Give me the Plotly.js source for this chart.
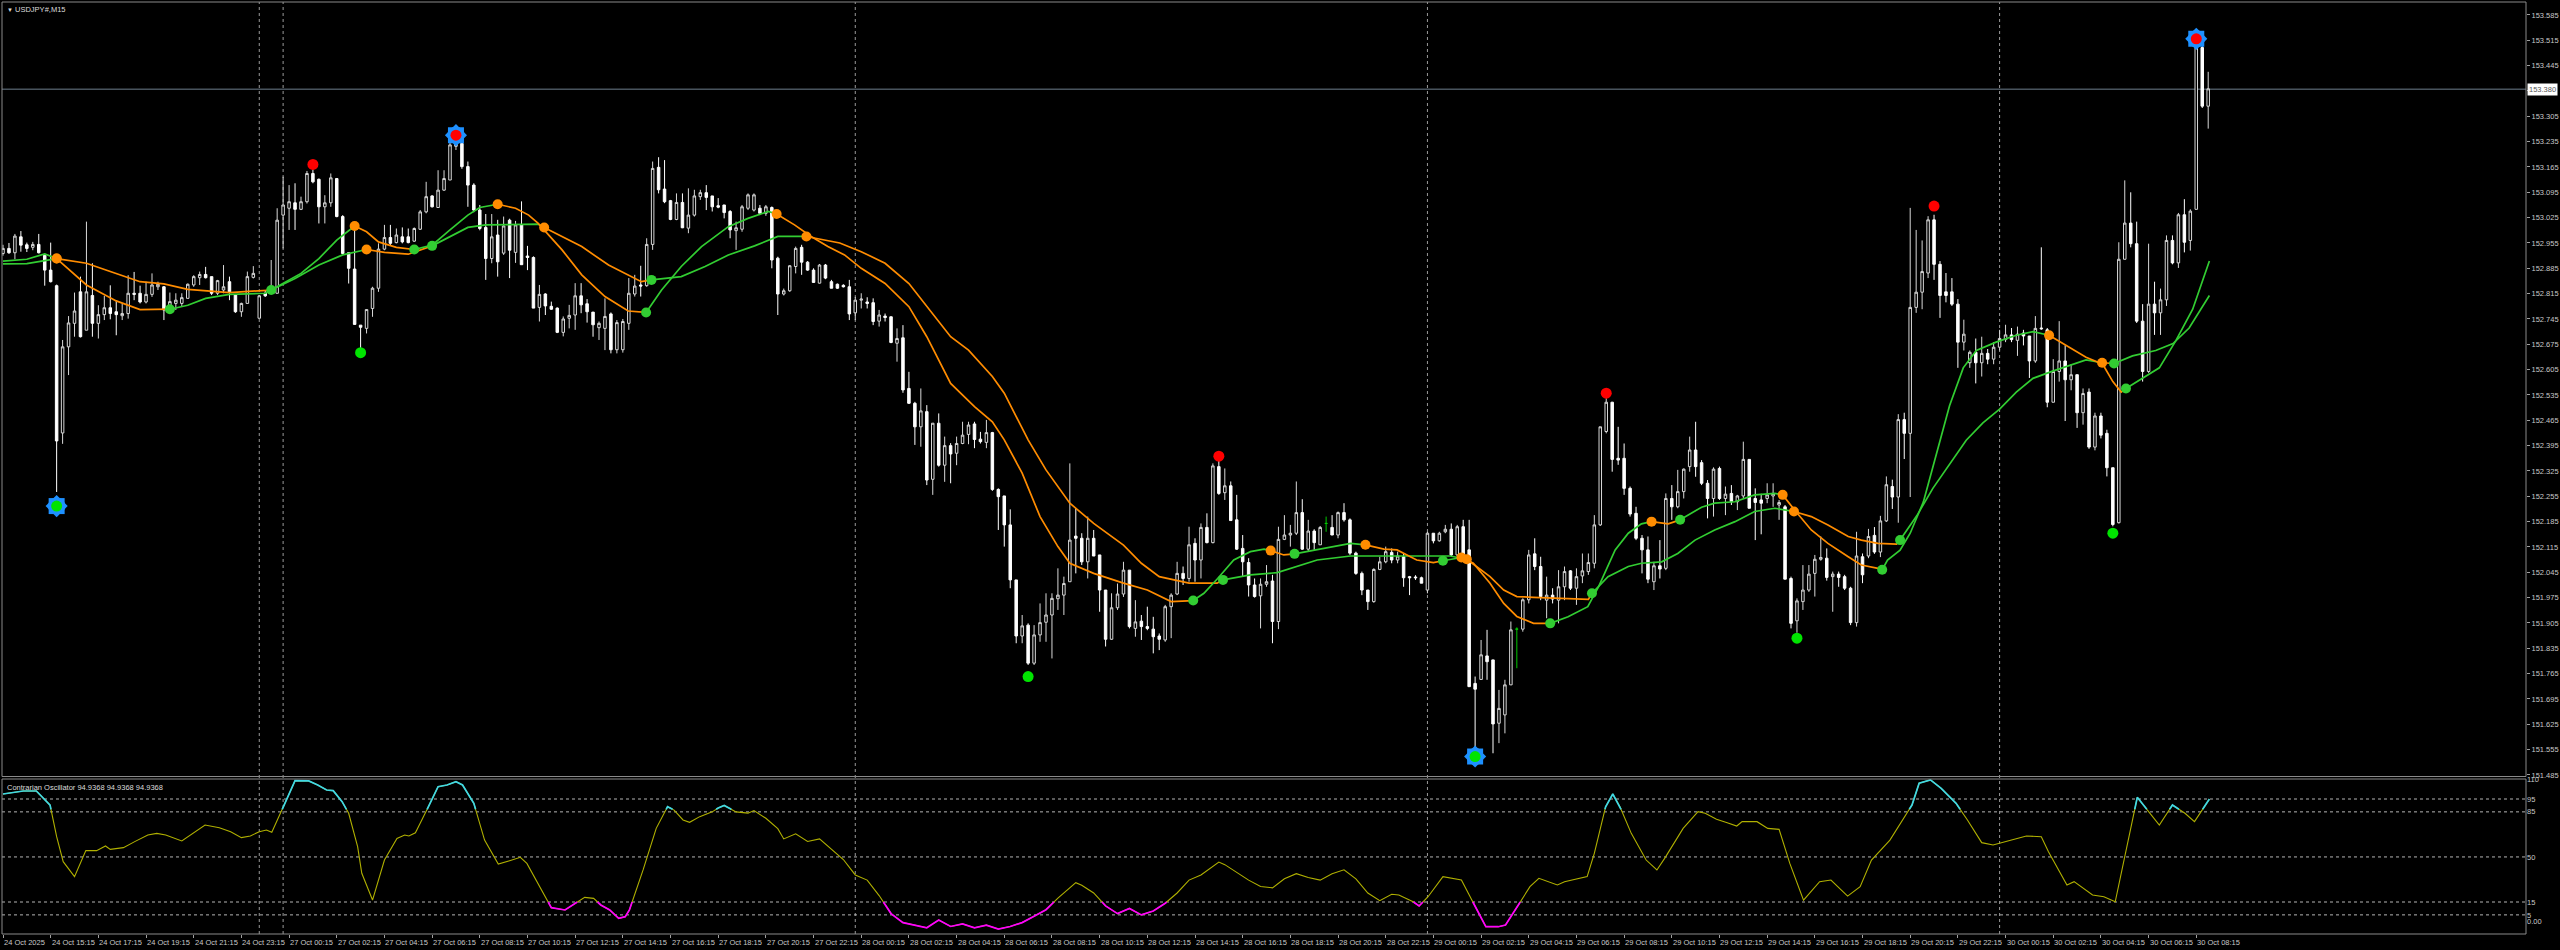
<!DOCTYPE html>
<html><head><meta charset="utf-8">
<script src="https://cdn.plot.ly/plotly-3.0.1.min.js"></script>
<style>html,body{margin:0;padding:0;background:#000;overflow:hidden}#chart{width:2560px;height:950px}</style>
</head><body><div id="chart"></div>
<script>
// ---------------- DATA ----------------
const symbolTitle = "USDJPY#,M15";
const oscTitle = "Contrarian Oscillator 94.9368 94.9368 94.9368";

const openP = [
152.926,152.940,152.928,152.972,152.950,152.943,152.951,152.921,152.880,152.837,
152.430,152.668,152.733,152.820,152.714,152.810,152.733,152.757,152.776,152.765,
152.754,152.760,152.816,152.816,152.792,152.813,152.834,152.834,152.779,152.788,
152.788,152.802,152.839,152.859,152.868,152.862,152.816,152.825,152.848,152.811,
152.765,152.788,152.860,152.747,152.816,152.816,152.816,153.032,153.051,153.066,
153.048,153.069,153.147,153.131,153.055,153.066,153.133,153.028,152.928,152.883,
152.728,152.719,152.774,152.830,152.938,152.970,152.956,152.972,152.972,152.960,
152.993,153.041,153.085,153.053,153.101,153.129,153.222,153.230,153.166,153.115,
153.046,152.998,152.912,152.977,152.927,153.018,152.929,153.005,152.919,152.915,
152.777,152.814,152.780,152.775,152.708,152.747,152.756,152.809,152.787,152.764,
152.721,152.719,152.759,152.660,152.660,152.733,152.814,152.839,152.837,152.951,
153.164,153.104,153.072,153.020,153.067,152.996,153.032,153.083,153.094,153.085,
153.058,153.060,153.042,152.989,152.993,153.051,153.046,153.051,153.037,153.053,
152.913,152.814,152.823,152.890,152.943,152.902,152.880,152.844,152.894,152.848,
152.841,152.838,152.834,152.762,152.797,152.792,152.790,152.739,152.753,152.751,
152.678,152.693,152.553,152.512,152.447,152.489,152.302,152.457,152.341,152.395,
152.374,152.401,152.426,152.455,152.413,152.404,152.431,152.274,152.256,152.176,
152.024,151.869,151.899,151.794,151.872,151.907,151.927,151.972,151.982,152.019,
152.145,152.139,152.074,152.139,152.093,151.996,151.860,151.947,151.985,152.051,
151.890,151.910,151.895,151.888,151.869,151.858,151.950,151.985,152.042,152.028,
152.125,152.079,152.169,152.127,152.337,152.265,152.284,152.190,152.111,152.072,
152.010,151.980,152.012,152.021,151.909,152.136,152.148,152.153,152.210,152.109,
152.159,152.121,152.180,152.169,152.148,152.210,152.190,152.098,152.042,151.996,
151.964,152.053,152.074,152.100,152.079,152.088,152.033,152.032,152.030,151.996,
152.153,152.132,152.157,152.164,152.093,152.171,152.107,151.738,151.749,151.814,
151.803,151.628,151.651,151.734,151.888,151.888,151.969,152.096,152.061,151.968,
151.982,151.968,152.005,152.049,152.001,152.035,152.047,152.070,152.176,152.434,
152.515,152.360,152.360,152.277,152.208,152.139,152.107,152.019,152.063,152.056,
152.249,152.226,152.268,152.337,152.383,152.348,152.291,152.249,152.332,152.249,
152.263,152.240,152.256,152.357,152.249,152.245,152.249,152.256,152.231,152.226,
152.028,151.911,151.964,151.996,152.042,152.081,152.084,152.033,152.040,152.033,
152.001,151.906,152.088,152.090,152.147,152.101,152.187,152.282,152.253,152.467,
152.429,152.777,152.819,152.872,153.019,152.896,152.820,152.820,152.786,152.681,
152.624,152.653,152.624,152.650,152.634,152.667,152.688,152.701,152.686,152.706,
152.698,152.629,152.720,152.715,152.515,152.600,152.629,152.577,152.591,152.486,
152.543,152.391,152.477,152.429,152.334,152.182,152.910,153.010,152.953,152.739,
152.600,152.786,152.762,152.798,152.962,152.900,153.033,152.962,153.048,153.495,
153.333];

const highP = [
152.950,152.955,152.980,152.988,152.956,152.958,152.980,152.926,152.956,152.840,
152.687,152.753,152.818,152.862,153.014,152.899,152.783,152.809,152.838,152.797,
152.788,152.866,152.875,152.837,152.848,152.871,152.848,152.836,152.818,152.816,
152.816,152.843,152.866,152.876,152.889,152.862,152.853,152.894,152.862,152.811,
152.790,152.876,152.891,152.811,152.825,152.908,153.051,153.138,153.115,153.120,
153.083,153.154,153.158,153.133,153.087,153.147,153.133,153.032,152.928,153.005,
152.728,152.771,152.834,152.954,153.005,153.005,152.995,152.998,152.995,152.998,
153.046,153.124,153.087,153.156,153.156,153.239,153.242,153.232,153.180,153.120,
153.060,153.035,153.035,153.019,153.028,153.022,153.016,153.070,152.947,152.918,
152.839,152.816,152.793,152.777,152.752,152.784,152.844,152.844,152.800,152.764,
152.738,152.802,152.763,152.742,152.745,152.858,152.867,152.892,152.968,153.180,
153.192,153.184,153.074,153.092,153.092,153.106,153.102,153.102,153.115,153.085,
153.079,153.060,153.046,153.014,153.060,153.092,153.092,153.060,153.060,153.056,
152.917,152.829,152.894,152.945,152.950,152.905,152.885,152.897,152.897,152.853,
152.843,152.841,152.853,152.806,152.816,152.805,152.802,152.770,152.760,152.752,
152.719,152.728,152.599,152.516,152.553,152.507,152.457,152.484,152.420,152.402,
152.420,152.461,152.461,152.461,152.433,152.466,152.433,152.277,152.256,152.219,
152.024,151.927,151.904,151.899,151.959,151.987,151.987,152.056,152.033,152.346,
152.222,152.153,152.199,152.162,152.093,151.996,151.987,152.014,152.074,152.051,
151.968,151.927,151.950,151.922,151.876,151.955,151.987,152.074,152.061,152.171,
152.139,152.180,152.208,152.346,152.355,152.332,152.296,152.259,152.148,152.084,
152.028,152.028,152.065,152.038,152.171,152.203,152.176,152.296,152.247,152.190,
152.164,152.173,152.199,152.203,152.213,152.236,152.194,152.102,152.047,151.996,
152.056,152.088,152.116,152.111,152.102,152.098,152.035,152.037,152.033,152.157,
152.153,152.157,152.176,152.180,152.176,152.190,152.190,151.757,151.858,151.886,
151.803,151.720,151.748,151.909,151.893,151.973,152.107,152.139,152.088,152.033,
152.001,152.051,152.061,152.051,152.056,152.097,152.097,152.203,152.447,152.526,
152.516,152.447,152.401,152.282,152.226,152.148,152.144,152.074,152.134,152.263,
152.286,152.328,152.332,152.420,152.461,152.355,152.300,152.335,152.337,152.282,
152.286,152.259,152.406,152.357,152.277,152.262,152.291,152.291,152.245,152.231,
152.033,151.973,152.065,152.065,152.093,152.144,152.111,152.047,152.047,152.038,
152.005,152.157,152.097,152.165,152.170,152.201,152.310,152.301,152.482,152.486,
153.052,152.991,152.962,153.029,153.033,152.905,152.872,152.858,152.800,152.743,
152.658,152.691,152.696,152.662,152.681,152.715,152.729,152.720,152.724,152.715,
152.698,152.753,152.943,152.720,152.634,152.739,152.672,152.620,152.591,152.553,
152.553,152.486,152.486,152.439,152.334,152.957,153.128,153.095,153.014,152.786,
152.953,152.848,152.829,152.976,152.976,153.038,153.076,153.048,153.514,153.500,
153.428];

const lowP = [
152.920,152.925,152.910,152.931,152.930,152.935,152.926,152.837,152.846,152.267,
152.400,152.590,152.696,152.694,152.714,152.696,152.691,152.742,152.744,152.700,
152.742,152.746,152.797,152.788,152.788,152.806,152.825,152.742,152.770,152.770,
152.779,152.802,152.834,152.839,152.857,152.811,152.811,152.816,152.797,152.762,
152.751,152.788,152.857,152.747,152.806,152.816,152.816,152.940,152.991,152.991,
153.046,153.064,153.120,153.009,153.009,153.055,153.026,152.926,152.843,152.730,
152.664,152.705,152.751,152.820,152.935,152.949,152.954,152.954,152.954,152.958,
152.991,153.037,153.053,153.053,153.099,153.129,153.212,153.160,153.055,153.040,
152.990,152.853,152.899,152.862,152.922,152.858,152.900,152.895,152.880,152.775,
152.738,152.756,152.770,152.706,152.697,152.719,152.715,152.761,152.735,152.696,
152.687,152.659,152.650,152.650,152.652,152.715,152.807,152.807,152.834,152.936,
153.092,153.065,153.018,153.018,152.996,152.982,153.028,153.074,153.046,153.042,
153.051,153.023,152.968,152.936,152.986,153.046,153.042,153.032,153.030,152.885,
152.756,152.810,152.820,152.871,152.867,152.878,152.845,152.843,152.855,152.830,
152.828,152.832,152.742,152.742,152.774,152.774,152.728,152.724,152.738,152.678,
152.627,152.541,152.510,152.397,152.392,152.286,152.259,152.337,152.295,152.291,
152.341,152.399,152.399,152.388,152.401,152.388,152.270,152.162,152.116,152.001,
151.849,151.849,151.789,151.789,151.853,151.853,151.807,151.941,151.927,152.019,
152.042,152.065,152.028,152.090,151.936,151.840,151.858,151.941,151.977,151.890,
151.867,151.858,151.885,151.821,151.830,151.853,151.863,151.982,152.010,152.019,
152.019,152.028,152.125,152.125,152.259,152.245,152.188,152.107,152.033,151.978,
151.975,151.890,152.005,151.849,151.888,152.134,152.116,152.148,152.107,152.102,
152.107,152.121,152.157,152.148,152.139,152.185,152.093,152.038,151.982,151.941,
151.961,152.051,152.070,152.070,152.070,152.005,151.982,152.024,152.015,151.987,
152.125,152.130,152.153,152.090,152.090,152.088,151.729,151.550,151.748,151.748,
151.545,151.573,151.600,151.734,151.780,151.881,151.959,152.051,151.968,151.918,
151.959,151.904,151.968,151.996,151.955,152.015,152.038,152.056,152.173,152.429,
152.323,152.342,152.259,152.199,152.134,152.042,152.015,151.996,152.028,152.051,
152.190,152.222,152.249,152.323,152.309,152.286,152.194,152.199,152.245,152.203,
152.231,152.217,152.249,152.222,152.134,152.150,152.236,152.226,152.190,152.026,
151.890,151.878,151.941,151.991,151.978,152.077,152.022,151.936,152.005,151.996,
151.899,151.895,152.015,152.084,152.096,152.087,152.184,152.220,152.182,152.358,
152.253,152.762,152.772,152.858,152.853,152.748,152.791,152.781,152.610,152.658,
152.610,152.567,152.586,152.620,152.620,152.658,152.681,152.681,152.643,152.672,
152.582,152.624,152.715,152.501,152.515,152.572,152.463,152.548,152.444,152.453,
152.386,152.382,152.415,152.310,152.172,152.180,152.910,152.943,152.734,152.572,
152.596,152.701,152.701,152.781,152.896,152.886,152.929,152.934,153.048,153.328,
153.271];

const closeP = [
152.940,152.928,152.974,152.949,152.940,152.951,152.928,152.880,152.848,152.408,
152.668,152.734,152.767,152.696,152.820,152.733,152.757,152.776,152.760,152.757,
152.760,152.816,152.813,152.792,152.813,152.839,152.841,152.770,152.793,152.797,
152.804,152.841,152.862,152.868,152.859,152.816,152.851,152.834,152.820,152.765,
152.788,152.862,152.871,152.809,152.809,152.830,153.018,153.060,153.069,153.048,
153.069,153.147,153.124,153.055,153.066,153.135,153.028,152.926,152.885,152.730,
152.722,152.771,152.830,152.938,152.970,152.954,152.977,152.958,152.956,152.995,
153.041,153.083,153.055,153.101,153.133,153.226,153.228,153.166,153.115,153.046,
152.995,152.912,152.972,152.903,153.002,152.935,153.005,152.895,152.915,152.775,
152.813,152.781,152.772,152.708,152.745,152.755,152.809,152.784,152.765,152.729,
152.733,152.752,152.660,152.735,152.738,152.816,152.836,152.836,152.951,153.161,
153.102,153.069,153.020,153.067,152.997,153.032,153.085,153.094,153.081,153.055,
153.054,153.039,152.991,152.997,153.055,153.088,153.088,153.037,153.055,152.908,
152.814,152.823,152.892,152.940,152.902,152.880,152.846,152.894,152.858,152.830,
152.830,152.834,152.759,152.797,152.800,152.788,152.738,152.756,152.749,152.680,
152.691,152.549,152.512,152.447,152.491,152.300,152.457,152.341,152.395,152.372,
152.401,152.424,152.452,152.412,152.406,152.431,152.274,152.254,152.176,152.024,
151.869,151.897,151.794,151.872,151.906,151.927,151.973,151.982,152.014,152.134,
152.139,152.074,152.139,152.090,151.996,151.860,151.947,151.985,152.051,151.895,
151.908,151.895,151.890,151.867,151.860,151.950,151.982,152.042,152.028,152.121,
152.079,152.169,152.127,152.339,152.263,152.284,152.188,152.109,152.074,152.010,
151.978,152.012,152.019,151.909,152.136,152.148,152.153,152.210,152.109,152.159,
152.127,152.169,152.180,152.148,152.210,152.190,152.098,152.042,151.996,151.964,
152.053,152.074,152.102,152.079,152.090,152.030,152.030,152.030,152.015,152.153,
152.132,152.153,152.164,152.093,152.171,152.093,151.729,151.722,151.817,151.798,
151.626,151.669,151.734,151.886,151.888,151.969,152.093,152.061,151.978,151.982,
151.971,152.005,152.047,152.001,152.033,152.049,152.072,152.176,152.447,152.515,
152.357,152.355,152.277,152.206,152.139,152.107,152.026,152.063,152.054,152.249,
152.226,152.268,152.330,152.383,152.337,152.291,152.249,152.330,152.249,152.261,
152.240,152.256,152.357,152.222,152.238,152.236,152.259,152.263,152.238,152.026,
151.904,151.966,151.996,152.040,152.081,152.086,152.031,152.040,152.031,152.001,
151.906,152.090,152.038,152.144,152.101,152.187,152.287,152.253,152.467,152.429,
152.777,152.819,152.876,153.019,152.896,152.810,152.810,152.786,152.681,152.703,
152.653,152.624,152.650,152.634,152.667,152.691,152.701,152.688,152.703,152.698,
152.629,152.719,152.718,152.515,152.600,152.629,152.577,152.591,152.486,152.539,
152.391,152.477,152.424,152.334,152.177,152.910,153.010,152.953,152.739,152.600,
152.786,152.762,152.798,152.962,152.900,153.033,152.957,153.043,153.495,153.333,
153.381];

const currentPrice = 153.380;

// fast moving average (bar, price) and its colour turns
const fastMaBar = [0,4,7,9,14,19,23,28,31,34,38,44,45,47,50,53,56,59,61,63,66,69,72,75,78,80,83,86,88.2,89.8,93.8,97.1,101,104.9,107.9,110.5,113.8,117.2,121.7,125,128.4,129.8,132.8,135.6,138.4,141.2,144,148,152,155,159,163,166,168,171,174,177,179,183,188,192,196,199.7,201.5,203.8,206.5,209.3,211.6,212.7,214.9,216.7,220.5,223.3,226.1,228.6,231.7,233.9,237.2,240,241.6,244.7,246.7,249.5,251.8,254,256.8,259.6,262.6,265.9,267.7,270.5,272.7,274.9,276.6,279.4,281.4,285,287.2,290.6,293.9,297.3,298.6,300.6,303.4,306.2,309.6,311.8,314.6,315.3,316.2,318.3,320,322.2,324.4,326.6,328.9,331.1,334.4,337.8,340.6,343.3,346.2,349.5,352.3,354,355.4,356.2,359,361.8,364.6,367.4,370.2];
const fastMaVal = [152.905,152.910,152.925,152.912,152.839,152.795,152.771,152.772,152.783,152.802,152.813,152.816,152.825,152.842,152.871,152.912,152.963,153.002,152.986,152.958,152.943,152.937,152.949,152.991,153.032,153.053,153.062,153.051,153.032,153.009,152.936,152.867,152.807,152.767,152.763,152.825,152.890,152.945,153.000,153.023,153.042,153.035,153.005,152.973,152.945,152.922,152.885,152.843,152.779,152.696,152.567,152.503,152.461,152.411,152.319,152.199,152.116,152.070,152.042,152.015,151.996,151.964,151.967,151.987,152.028,152.079,152.102,152.109,152.105,152.093,152.096,152.107,152.116,152.125,152.121,152.109,152.107,152.079,152.072,152.077,152.086,152.070,152.015,151.959,151.923,151.904,151.904,151.922,151.950,152.005,152.107,152.153,152.179,152.185,152.179,152.190,152.225,152.236,152.240,152.259,152.263,152.259,152.217,152.162,152.125,152.088,152.065,152.056,152.052,152.079,152.106,152.153,152.239,152.372,152.505,152.610,152.658,152.681,152.700,152.710,152.700,152.672,152.639,152.620,152.572,152.543,152.553,152.581,152.610,152.686,152.772,152.905];
const fastTurnBar = [9,28,59,69,83,107.9,129.8,199.7,212.7,216.7,228.6,241.6,244.7,259.6,276.6,281.4,298.6,315.3,343.3,356.2];
const fastTurnDir = ["down","up","down","up","down","up","down","up","down","up","down","up","down","up","down","up","down","up","down","up"];

// slow moving average
const slowMaBar = [0,4,9,14,18,23,27,31,38,45,49,53,57,61,64,68,72,75,78,81,83,89.8,90.8,93.8,97.1,101.6,104.9,107.1,108.8,113.8,117.8,121.7,126.1,130,134.8,137.3,140.4,144,148,152,155,159,162,166,168,170,172,175,179,183,188,191,194,199,203.7,204.7,209.3,213.8,217.7,220.5,226.1,237.2,242.8,245.6,249.5,251.8,254,256.8,266,266.6,269.3,272.7,274.9,278.3,281,283.9,287.2,290.6,293.9,297.3,300.5,303.4,306.2,309.6,311.8,314.6,317.7,318.3,321.1,323.8,326.6,329.4,332.2,335,337.8,340.6,343.9,347.3,349.5,352.2,354.2,357.3,361.2,364.1,366.8,370.2];
const slowMaVal = [152.897,152.898,152.912,152.899,152.876,152.848,152.842,152.827,152.818,152.825,152.857,152.894,152.922,152.937,152.929,152.924,152.947,152.972,152.998,153.005,153.005,153.007,152.998,152.973,152.945,152.894,152.867,152.848,152.853,152.862,152.890,152.922,152.947,152.973,152.973,152.965,152.955,152.931,152.899,152.843,152.779,152.696,152.659,152.586,152.540,152.475,152.411,152.328,152.236,152.180,152.120,152.070,152.033,152.015,152.015,152.024,152.038,152.044,152.065,152.079,152.090,152.090,152.090,152.081,152.033,151.996,151.978,151.976,151.970,151.987,152.033,152.061,152.070,152.074,152.097,152.134,152.162,152.185,152.213,152.222,152.213,152.199,152.176,152.144,152.134,152.125,152.123,152.134,152.201,152.277,152.344,152.410,152.458,152.496,152.543,152.581,152.601,152.620,152.632,152.624,152.622,152.643,152.658,152.677,152.720,152.810];
const slowTurnBar = [9,45,61,72,90.8,108.8,134.8,204.7,245.6,266.6,300.5,318.3,352.2,354.2];
const slowTurnDir = ["down","up","down","up","down","up","down","up","down","up","down","up","down","up"];

// swing markers
const swingHighBar = [52,204,269,324];
const swingHighVal = [153.172,152.366,152.540,153.057];
const swingLowBar = [60,172,301,354];
const swingLowVal = [152.652,151.757,151.863,152.153];
const majorHighBar = [76,368];
const majorHighVal = [153.253,153.519];
const majorLowBar = [9,247];
const majorLowVal = [152.228,151.536];

// oscillator (bar, value)
const oscBar = [0,1.9,3.4,5.6,7.9,9,10.1,12,13.9,15.7,17.2,18,20.2,22.1,24.3,25.8,27.3,30,31.8,33.9,36.3,38.2,40,41.5,43,44.2,45.1,46.8,49,51.3,52.8,54.3,55.4,56.9,58,59.5,60.2,62,64,66.1,67.4,68.1,69.2,71.1,73,74.5,76,77.1,79,80.8,83.1,85,86.8,87.9,90.2,92,94.3,95.8,97.6,99.1,100.3,101.8,103.3,104.4,105.1,107.4,109.6,111.5,112.6,114.1,115.2,116.9,
119,120,121,123,125,126,128,130,131,133,135,137,139,141,143,145,147,149,151,153,155,157,159,161,163,165,167,169,171,173,175,177,179,180,181,183,185,187,189,191,193,195,197,199,201,203,204,205,207,209,211,213,215,217,219,221,223,225,227,229,231,233,
234.2,236.6,237.6,239.1,241.6,243.4,244.7,246.6,248.8,250.9,252.1,254.6,256.2,257.7,260.8,262,265.8,267,268.9,270.1,271.3,273.2,275.7,277.5,278.8,281.9,284.4,285.6,287.5,289.3,290.9,291.8,294.3,296.1,298,299.8,302.1,304.8,306.7,309.5,311.6,313.5,316.6,320.3,321.5,323.4,325.2,327.7,329.6,332,333.9,337,339.5,342,343.2,346.3,347.5,350.6,352.5,354.4,358.1,361.8,364,366.1,367.7,370.2];
const oscVal = [98.9,99.9,101.2,101.2,90.3,65.7,46.3,34.7,54.9,54.9,58.5,55.9,57.2,61.9,67.0,68.3,67.0,62.4,68.3,74.8,72.7,69.6,65.0,66.3,69.6,70.9,69.1,86.5,109.2,109.0,105.9,102.0,101.5,92.9,83.9,58.0,37.3,16.5,47.6,64.4,67.0,66.3,68.8,86.4,104.6,105.9,108.5,105.9,91.6,63.1,44.5,47.1,49.7,45.0,25.6,10.6,8.8,13.4,18.6,17.8,12.7,8.8,2.3,3.6,8.8,39.9,72.2,89.0,86.4,78.7,76.9,81.3,
85,88,90,85,84,86,80,72,64,68,62,64,56,48,36,32,20,6,-1,-3,-5,1,-4,-2,-5,-3,-6,-4,-1,4,9,18,26,30,28,22,12,6,10,5,8,14,22,32,36,43,46,44,38,32,27,26,33,37,34,32,37,40,33,22,16,21,
20.4,15.2,11.9,19.1,34.7,33.4,32.1,15.2,-4.2,-4.2,-2.9,15.2,26.9,33.4,28.2,30.8,34.7,52.8,89.0,98.9,89.0,68.3,47.6,39.9,48.9,72.2,85.2,83.9,79.2,76.6,74.0,77.4,77.4,72.2,71.4,45.0,16.5,30.8,32.1,19.6,26.9,47.6,63.1,90.3,107.2,109.8,103.3,91.6,78.7,61.1,59.3,63.1,66.3,65.7,54.1,28.2,30.8,20.4,19.1,15.2,96.3,74.8,90.3,83.9,77.4,94.94];
const oscLevels = [95,85,50,15,5];
const oscTickVals = [110,95,85,50,15,5,0,-10];
const oscTickText = ["110","95","85","50","15","5","0.00","-10"];

const priceTicks = [153.585,153.515,153.445,153.375,153.305,153.235,153.165,153.095,153.025,152.955,152.885,152.815,152.745,152.675,152.605,152.535,152.465,152.395,152.325,152.255,152.185,152.115,152.045,151.975,151.905,151.835,151.765,151.695,151.625,151.555,151.485];
const priceTickText = ["153.585","153.515","153.445","","153.305","153.235","153.165","153.095","153.025","152.955","152.885","152.815","152.745","152.675","152.605","152.535","152.465","152.395","152.325","152.255","152.185","152.115","152.045","151.975","151.905","151.835","151.765","151.695","151.625","151.555","151.485"];

const timeLabels = ["24 Oct 2025","24 Oct 15:15","24 Oct 17:15","24 Oct 19:15","24 Oct 21:15","24 Oct 23:15",
"27 Oct 00:15","27 Oct 02:15","27 Oct 04:15","27 Oct 06:15","27 Oct 08:15","27 Oct 10:15","27 Oct 12:15","27 Oct 14:15","27 Oct 16:15","27 Oct 18:15","27 Oct 20:15","27 Oct 22:15",
"28 Oct 00:15","28 Oct 02:15","28 Oct 04:15","28 Oct 06:15","28 Oct 08:15","28 Oct 10:15","28 Oct 12:15","28 Oct 14:15","28 Oct 16:15","28 Oct 18:15","28 Oct 20:15","28 Oct 22:15",
"29 Oct 00:15","29 Oct 02:15","29 Oct 04:15","29 Oct 06:15","29 Oct 08:15","29 Oct 10:15","29 Oct 12:15","29 Oct 14:15","29 Oct 16:15","29 Oct 18:15","29 Oct 20:15","29 Oct 22:15",
"30 Oct 00:15","30 Oct 02:15","30 Oct 04:15","30 Oct 06:15","30 Oct 08:15"];
const barsPerLabel = 8;
const daySeparatorBars = [43,47,143,239,335];

// ---------------- STYLE ----------------
const FONT = "Liberation Sans, Arial, sans-serif";
const TXT = "#c8c8c8";
const FRAME = "#8a8a8a";
const ORANGE = "#ff8c00", GREEN = "#32cd32";
const OLIVE = "#b0b000", CYAN = "#3fd8e6", MAGENTA = "#ff00ff";
const GEAR = "#1e90ff";

// ---------------- BUILD ----------------
const bars = closeP.map((_, i) => i);
const isDoji = i => openP[i] === closeP[i];
const idxMain = bars.filter(i => !isDoji(i));
const idxDoji = bars.filter(isDoji);
const pick = (a, idx) => idx.map(i => a[i]);

const traces = [];
traces.push({
  type: "candlestick", x: idxMain, open: pick(openP, idxMain), high: pick(highP, idxMain),
  low: pick(lowP, idxMain), close: pick(closeP, idxMain), xaxis: "x", yaxis: "y",
  increasing: {line: {color: "#d8d8d8", width: 1}, fillcolor: "#000000"},
  decreasing: {line: {color: "#ffffff", width: 1}, fillcolor: "#ffffff"},
  whiskerwidth: 0, hoverinfo: "skip"
});
if (idxDoji.length) traces.push({
  type: "candlestick", x: idxDoji, open: pick(openP, idxDoji), high: pick(highP, idxDoji),
  low: pick(lowP, idxDoji), close: pick(closeP, idxDoji), xaxis: "x", yaxis: "y",
  increasing: {line: {color: "#00c800", width: 1}, fillcolor: "#00c800"},
  decreasing: {line: {color: "#00c800", width: 1}, fillcolor: "#00c800"},
  whiskerwidth: 0, hoverinfo: "skip"
});

function maLines(xs, ys, turnX, turnDir, startDir) {
  const out = {up: {x: [], y: []}, down: {x: [], y: []}};
  let dir = startDir, ti = 0, lastDir = null;
  for (let k = 0; k < xs.length - 1; k++) {
    while (ti < turnX.length && turnX[ti] <= xs[k] + 1e-9) { dir = turnDir[ti]; ti++; }
    const s = out[dir];
    if (lastDir === dir) { s.x.push(xs[k + 1]); s.y.push(ys[k + 1]); }
    else { if (s.x.length) { s.x.push(null); s.y.push(null); } s.x.push(xs[k], xs[k + 1]); s.y.push(ys[k], ys[k + 1]); }
    lastDir = dir;
  }
  return out;
}
function turnDots(xs, ys, turnX, turnDir) {
  const r = {up: {x: [], y: []}, down: {x: [], y: []}};
  turnX.forEach((tx, j) => {
    const k = xs.findIndex(v => Math.abs(v - tx) < 1e-6);
    if (k >= 0) { r[turnDir[j]].x.push(tx); r[turnDir[j]].y.push(ys[k]); }
  });
  return r;
}
const maSets = [[slowMaBar, slowMaVal, slowTurnBar, slowTurnDir], [fastMaBar, fastMaVal, fastTurnBar, fastTurnDir]];
maSets.forEach(([xs, ys, tx, td]) => {
  const L = maLines(xs, ys, tx, td, "up");
  traces.push({type: "scatter", mode: "lines", x: L.down.x, y: L.down.y, line: {color: ORANGE, width: 1.7}, hoverinfo: "skip", connectgaps: false});
  traces.push({type: "scatter", mode: "lines", x: L.up.x, y: L.up.y, line: {color: GREEN, width: 1.7}, hoverinfo: "skip", connectgaps: false});
});
maSets.forEach(([xs, ys, tx, td]) => {
  const D = turnDots(xs, ys, tx, td);
  traces.push({type: "scatter", mode: "markers", x: D.down.x, y: D.down.y, marker: {color: ORANGE, size: 10}, hoverinfo: "skip"});
  traces.push({type: "scatter", mode: "markers", x: D.up.x, y: D.up.y, marker: {color: GREEN, size: 10}, hoverinfo: "skip"});
});

// gears (blue toothed ring) behind the major extremes
const gearX = majorHighBar.concat(majorLowBar), gearY = majorHighVal.concat(majorLowVal);
traces.push({type: "scatter", mode: "markers", x: gearX, y: gearY, marker: {symbol: "square", size: 16, color: GEAR}, hoverinfo: "skip"});
traces.push({type: "scatter", mode: "markers", x: gearX, y: gearY, marker: {symbol: "diamond", size: 17, color: GEAR}, hoverinfo: "skip"});
traces.push({type: "scatter", mode: "markers", x: gearX, y: gearY, marker: {symbol: "circle", size: 17, color: GEAR}, hoverinfo: "skip"});
traces.push({type: "scatter", mode: "markers", x: swingHighBar.concat(majorHighBar), y: swingHighVal.concat(majorHighVal), marker: {color: "#ff0000", size: 11}, hoverinfo: "skip"});
traces.push({type: "scatter", mode: "markers", x: swingLowBar.concat(majorLowBar), y: swingLowVal.concat(majorLowVal), marker: {color: "#00e400", size: 11}, hoverinfo: "skip"});

// oscillator
function overlay(xs, vs, above, thr) {
  const ox = [], oy = [];
  const test = v => above ? v >= thr : v <= thr;
  for (let k = 0; k < xs.length; k++) {
    const inC = test(vs[k]);
    if (k > 0) {
      const prevIn = test(vs[k - 1]);
      if (prevIn !== inC) {
        const t = (thr - vs[k - 1]) / (vs[k] - vs[k - 1]);
        const cx = xs[k - 1] + t * (xs[k] - xs[k - 1]);
        ox.push(cx); oy.push(thr);
        if (prevIn) { ox.push(null); oy.push(null); }
      }
    }
    if (inC) { ox.push(xs[k]); oy.push(vs[k]); }
  }
  return [ox, oy];
}
traces.push({type: "scatter", mode: "lines", x: oscBar, y: oscVal, xaxis: "x", yaxis: "y2", line: {color: OLIVE, width: 1.1}, hoverinfo: "skip"});
const [cx, cy] = overlay(oscBar, oscVal, true, 87);
traces.push({type: "scatter", mode: "lines", x: cx, y: cy, xaxis: "x", yaxis: "y2", line: {color: CYAN, width: 1.7}, hoverinfo: "skip"});
const [mx, my] = overlay(oscBar, oscVal, false, 15);
traces.push({type: "scatter", mode: "lines", x: mx, y: my, xaxis: "x", yaxis: "y2", line: {color: MAGENTA, width: 1.7}, hoverinfo: "skip"});

// layout geometry (pixels of the 2560x950 page)
const plotTop = 2, plotBottom = 934, mainBottomPx = 776.5, oscTopPx = 779;
const H = plotBottom - plotTop;
const mainDomBottom = (plotBottom - mainBottomPx) / H;
const oscDomTop = (plotBottom - oscTopPx) / H;
const pxPerBar = 5.96, bar0Px = 3, leftPx = 2, rightPx = 2526;
const xr = [(leftPx - bar0Px) / pxPerBar, (rightPx - bar0Px) / pxPerBar];
const pxPerPrice = 361.9, priceAtPx0 = 153.6264;
const yr = [priceAtPx0 - mainBottomPx / pxPerPrice, priceAtPx0 - plotTop / pxPerPrice];
const oscPxPerUnit = 1.2875;
const y2r = [95 - (plotBottom - 799) / oscPxPerUnit, 95 + (799 - oscTopPx) / oscPxPerUnit];

const labelBars = timeLabels.map((_, k) => k * barsPerLabel);
const shapes = [];
daySeparatorBars.forEach(b => shapes.push({type: "line", xref: "x", yref: "paper", x0: b, x1: b, y0: 0, y1: 1, line: {color: "#9a9a9a", width: 1, dash: "dot"}, layer: "below"}));
oscLevels.forEach(v => shapes.push({type: "line", xref: "paper", yref: "y2", x0: 0, x1: 1, y0: v, y1: v, line: {color: "#b4b4b4", width: 1, dash: "dot"}, layer: "below"}));
shapes.push({type: "line", xref: "paper", yref: "y", x0: 0, x1: 1, y0: currentPrice, y1: currentPrice, line: {color: "#6e7e8e", width: 1}, layer: "below"});
shapes.push({type: "rect", xref: "paper", yref: "paper", x0: 0, x1: 1, y0: mainDomBottom, y1: 1, line: {color: FRAME, width: 1}});
shapes.push({type: "rect", xref: "paper", yref: "paper", x0: 0, x1: 1, y0: 0, y1: oscDomTop, line: {color: FRAME, width: 1}});

const annotations = [];
annotations.push({xref: "paper", yref: "paper", x: 0, y: 1, xanchor: "left", yanchor: "top", xshift: 3, yshift: -1, showarrow: false,
  text: '<span style="font-size:6px">▼</span> ' + symbolTitle, font: {family: FONT, size: 7.5, color: "#dcdcdc"}});
annotations.push({xref: "paper", yref: "paper", x: 0, y: oscDomTop, xanchor: "left", yanchor: "top", xshift: 3, yshift: -2, showarrow: false,
  text: oscTitle, font: {family: FONT, size: 7.5, color: "#dcdcdc"}});
timeLabels.forEach((t, k) => annotations.push({xref: "x", yref: "paper", x: labelBars[k], y: 0, xanchor: "left", yanchor: "top", yshift: -2, xshift: -1, showarrow: false,
  text: t, font: {family: FONT, size: 7.5, color: TXT}}));
annotations.push({xref: "paper", yref: "y", x: 1, y: currentPrice, xanchor: "left", yanchor: "middle", xshift: 1, showarrow: false,
  text: currentPrice.toFixed(3), bgcolor: "#ffffff", borderpad: 1, font: {family: FONT, size: 7.5, color: "#555555"}});

const layout = {
  width: 2560, height: 950, paper_bgcolor: "#000000", plot_bgcolor: "#000000",
  margin: {l: leftPx, r: 2560 - rightPx, t: plotTop, b: 950 - plotBottom},
  showlegend: false, hovermode: false, boxgap: 0.4,
  xaxis: {range: xr, anchor: "y2", showgrid: false, zeroline: false, showline: false, fixedrange: true,
    tickvals: labelBars, ticks: "outside", ticklen: 3, tickcolor: "#a0a0a0", showticklabels: false,
    rangeslider: {visible: false}},
  yaxis: {domain: [mainDomBottom, 1], range: yr, side: "right", showgrid: false, zeroline: false, showline: false,
    tickvals: priceTicks, ticktext: priceTickText, ticks: "outside", ticklen: 3, tickcolor: "#a0a0a0",
    tickfont: {family: FONT, size: 7.5, color: TXT}, fixedrange: true},
  yaxis2: {domain: [0, oscDomTop], range: y2r, side: "right", showgrid: false, zeroline: false, showline: false,
    tickvals: oscTickVals, ticktext: oscTickText, ticks: "", tickfont: {family: FONT, size: 7.5, color: TXT}, fixedrange: true},
  shapes: shapes, annotations: annotations
};
Plotly.newPlot("chart", traces, layout, {staticPlot: true, displayModeBar: false});
</script>
</body></html>
